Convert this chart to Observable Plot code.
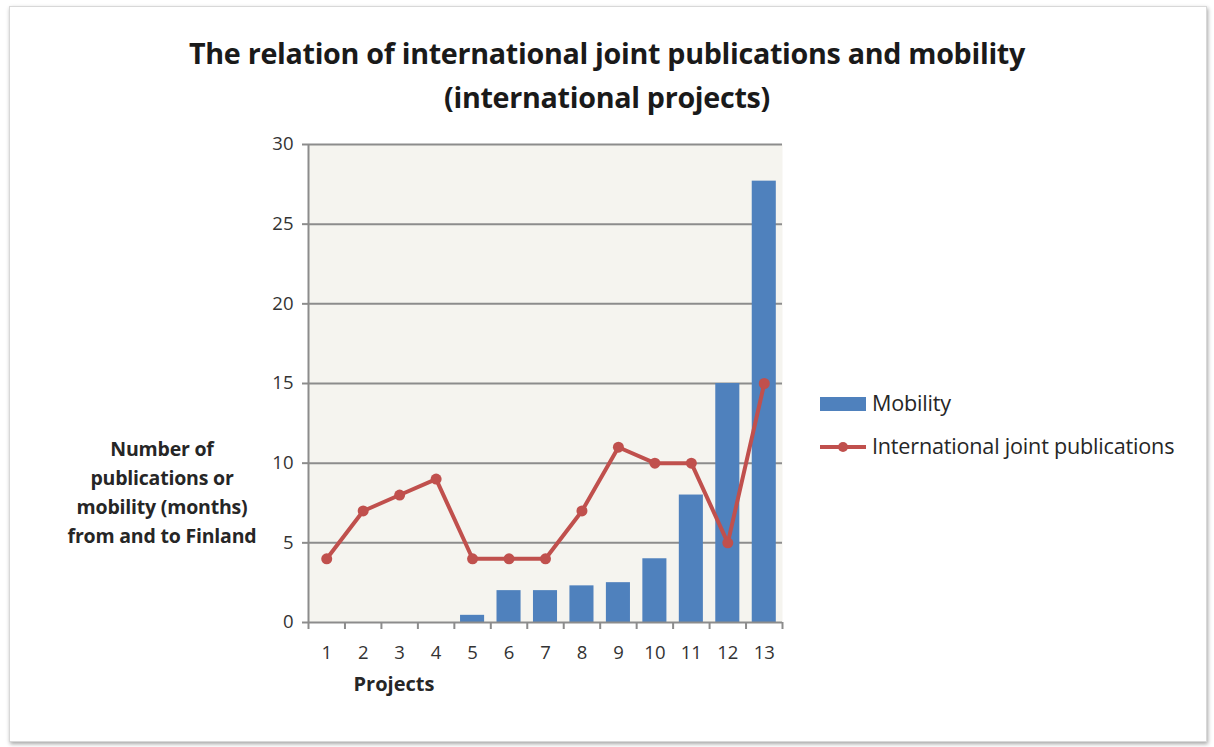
<!DOCTYPE html>
<html>
<head>
<meta charset="utf-8">
<script src="https://cdn.jsdelivr.net/npm/d3@7"></script>
<script src="https://cdn.jsdelivr.net/npm/@observablehq/plot@0.6"></script>
<style>
  html, body { margin: 0; padding: 0; background: #ffffff; }
  #wrap { position: relative; width: 1214px; height: 747px; overflow: hidden; font-family: "Open Sans", Lato, sans-serif; color: #1a1a1a; }
  #frame { position: absolute; left: 9px; top: 6px; width: 1196px; height: 734px; border: 1px solid #d8d8d8; box-shadow: 1px 2px 4px rgba(0,0,0,0.35); background: #fff; }
  #chart { position: absolute; left: 0; top: 0; }
  .title { position: absolute; left: 0; width: 1214px; text-align: center; font-weight: 700; font-size: 28.7px; letter-spacing: -0.3px; }
  #ylab { position: absolute; left: 32px; top: 434px; width: 260px; text-align: center; font-weight: 700; font-size: 19.5px; line-height: 29px; color: #262626; letter-spacing: -0.2px; }
  #xlab { position: absolute; left: 334px; top: 670px; width: 120px; text-align: center; font-weight: 700; font-size: 20px; color: #262626; }
  .leg { position: absolute; left: 820px; font-size: 21.6px; color: #262626; }
  .leg .sw { position: absolute; left: 0; }
  .leg .lb { position: absolute; left: 52px; top: -16px; white-space: nowrap; letter-spacing: -0.2px; }
</style>
</head>
<body>
<div id="wrap">
  <div id="frame"></div>
  <div id="chart"></div>
  <div class="title" style="top:33px">The relation of international joint publications and mobility</div>
  <div class="title" style="top:77px">(international projects)</div>
  <div id="ylab">Number of<br>publications or<br>mobility (months)<br>from and to Finland</div>
  <div id="xlab">Projects</div>
  <div class="leg" style="top:404px">
    <div class="sw" style="top:-7px;width:46px;height:14px;background:#4f81bd"></div>
    <div class="lb">Mobility</div>
  </div>
  <div class="leg" style="top:447px">
    <div class="sw" style="top:-2px;width:46px;height:4px;background:#c0504d"></div>
    <div class="sw" style="top:-5px;left:18px;width:10px;height:10px;border-radius:5px;background:#c0504d"></div>
    <div class="lb">International joint publications</div>
  </div>
</div>
<script>
const projects = [1,2,3,4,5,6,7,8,9,10,11,12,13];
const mobility = [0,0,0,0,0.45,2,2,2.3,2.5,4,8,15,27.7];
const publications = [4,7,8,9,4,4,4,7,11,10,10,5,15];
const yTicks = [0,5,10,15,20,25,30];

const data = projects.map((p, i) => ({project: p, mobility: mobility[i], publications: publications[i]}));
const bounds = d3.range(0, projects.length + 1).map(i => i + 0.5);
const half = 0.33;

const plot = Plot.plot({
  width: 1214,
  height: 747,
  marginLeft: 308,
  marginRight: 432,
  marginTop: 144,
  marginBottom: 125,
  style: {background: "transparent", fontFamily: "'Open Sans', Lato, sans-serif", fontSize: "18px", color: "#333333"},
  x: {domain: [0.5, projects.length + 0.5], label: null},
  y: {domain: [0, 30], label: null},
  marks: [
    Plot.frame({fill: "#f5f4ef", stroke: null}),
    Plot.ruleY(yTicks.filter(t => t > 0), {stroke: "#8c8c8c", strokeWidth: 2}),
    Plot.rectY(data.filter(d => d.mobility > 0), {x1: d => d.project - half, x2: d => d.project + half, y1: 0, y2: "mobility", fill: "#4f81bd"}),
    Plot.ruleY([0], {stroke: "#8c8c8c", strokeWidth: 2}),
    Plot.ruleX([0.5], {stroke: "#8c8c8c", strokeWidth: 2}),
    Plot.axisY({ticks: yTicks, tickSize: 6, tickPadding: 9, stroke: "#8c8c8c", strokeWidth: 2, fontSize: 18.5, fill: "#333333", label: null}),
    Plot.axisX({ticks: bounds, tickSize: 7, tickFormat: () => "", stroke: "#8c8c8c", strokeWidth: 2, label: null}),
    Plot.axisX({ticks: projects, tickSize: 0, tickPadding: 23, tickFormat: d => String(d), fontSize: 18.5, fill: "#333333", label: null}),
    Plot.line(data, {x: "project", y: "publications", stroke: "#c0504d", strokeWidth: 4}),
    Plot.dot(data, {x: "project", y: "publications", r: 5.5, fill: "#c0504d", stroke: null})
  ]
});
document.getElementById("chart").appendChild(plot);
</script>
</body>
</html>
